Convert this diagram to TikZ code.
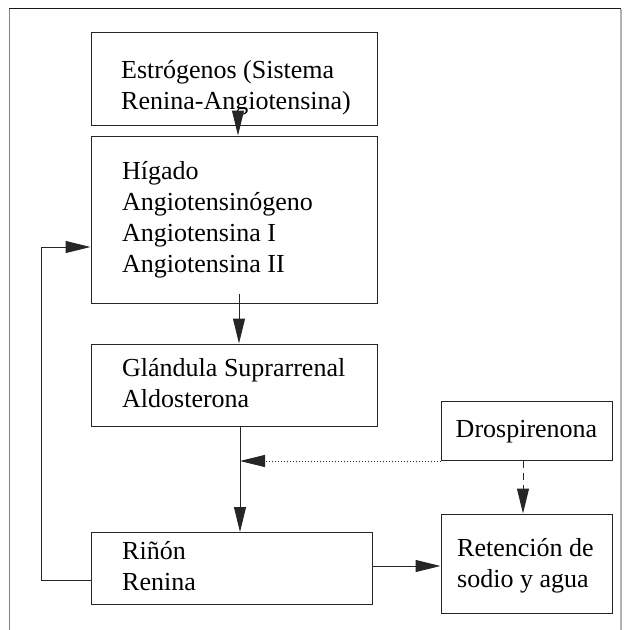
\documentclass[tikz,border=0pt]{standalone}
\usepackage{fontspec}
\setmainfont{Liberation Serif}
\usetikzlibrary{arrows.meta}

\begin{document}
\begin{tikzpicture}[x=1pt,y=-1pt,
  box/.style={draw=black!85,line width=1pt,inner sep=0pt},
  txt/.style={inner sep=0pt,align=left,font=\fontsize{26}{31}\selectfont},
  arr/.style={draw=black!85,line width=1pt,-{Triangle[length=25pt,width=12pt]}}]
\useasboundingbox (0,0) rectangle (625,630);
% frame
\draw[gray,line width=1.4pt] (9.5,630) -- (9.5,8.5);
\draw[black!90,line width=1.2pt] (9,8.5) -- (621,8.5);
\draw[gray!60,line width=1.2pt] (621,8.5) -- (621,630);
% boxes
\node[box,minimum width=286pt,minimum height=93pt] (estr) at (234,78.5) {};
\node[box,minimum width=286pt,minimum height=167pt] (higado) at (234,219.5) {};
\node[box,minimum width=286pt,minimum height=82pt] (glandula) at (234,385) {};
\node[box,minimum width=171pt,minimum height=59pt] (drosp) at (526.5,430.5) {};
\node[box,minimum width=281pt,minimum height=72pt] (rinon) at (231.5,568.5) {};
\node[box,minimum width=171pt,minimum height=99pt] (reten) at (526.5,563.5) {};
% texts (base = last line)
\node[txt,anchor=base west] (estrtxt) at (121,109.5) {Estrógenos (Sistema\\Renina-Angiotensina)};
\node[txt,anchor=base west] (higadotxt) at (122,272) {Hígado\\Angiotensinógeno\\Angiotensina I\\Angiotensina II};
\node[txt,anchor=base west] (glandulatxt) at (122,407.5) {Glándula Suprarrenal\\Aldosterona};
\node[txt,anchor=base] (drosptxt) at (526.5,437) {Drospirenona};
\node[txt,anchor=base west] (rinontxt) at (122,590.5) {Riñón\\Renina};
\node[txt,anchor=base west] (retentxt) at (457,587) {Retención de\\sodio y agua};
% arrows
\coordinate (hit) at (240,461);
\coordinate (back) at (41,580);
\draw[arr] ([yshift=7pt]estr.south -| 238,0) -- (higado.north -| 238,0);
\draw[arr] ([yshift=10pt]higado.south -| 239,0) -- (glandula.north -| 239,0);
\draw[arr] (glandula.south -| hit) -- (rinon.north -| hit);
\draw[arr,dotted] (drosp.south west |- hit) -- (hit);
\draw[arr,dash pattern=on 7pt off 5pt] (drosp.south -| 523,0) -- (reten.north -| 523,0);
\draw[arr] (rinon.east |- 0,566) -- (reten.west |- 0,566);
\draw[arr] (rinon.west |- back) -- (back) |- (higado.west |- 0,247);
\end{tikzpicture}
\end{document}
